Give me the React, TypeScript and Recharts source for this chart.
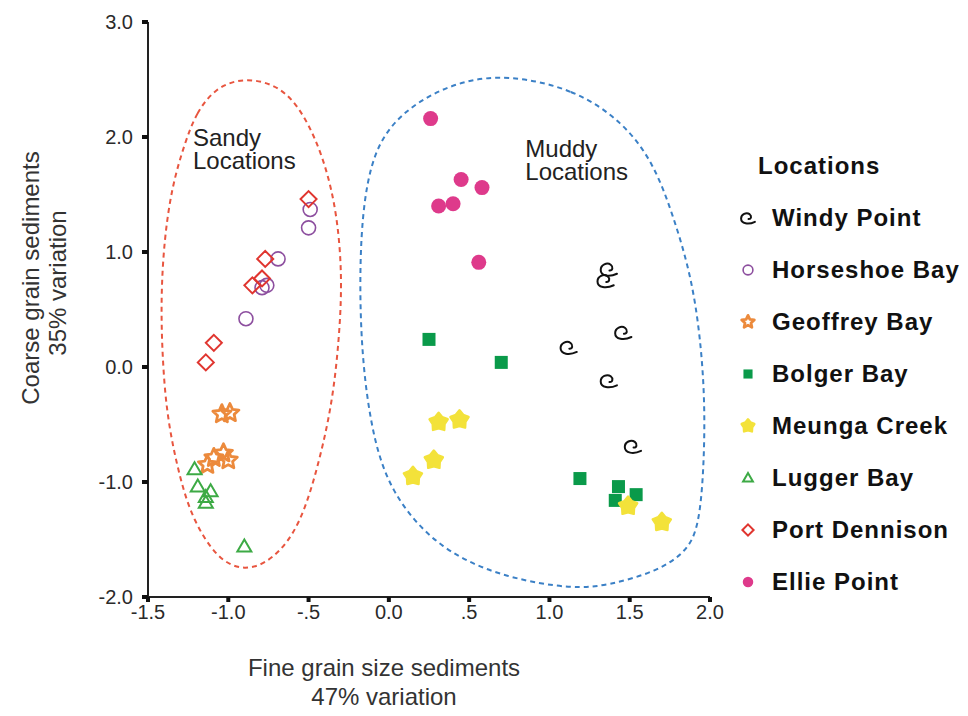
import React from 'react';
import {
  ComposedChart, Scatter, Line, XAxis, YAxis, Legend, ReferenceDot,
} from 'recharts';

const FONT = '"Liberation Sans", Arial, Helvetica, sans-serif';

const X_TICKS = [-1.5, -1, -0.5, 0, 0.5, 1, 1.5, 2];
const X_TICK_LABELS = ['-1.5', '-1.0', '-.5', '0.0', '.5', '1.0', '1.5', '2.0'];
const Y_TICKS = [-2, -1, 0, 1, 2, 3];
const Y_TICK_LABELS = ['-2.0', '-1.0', '0.0', '1.0', '2.0', '3.0'];

const windyPoint = [
  { x: 1.37, y: 0.85 }, { x: 1.35, y: 0.75 }, { x: 1.12, y: 0.17 },
  { x: 1.46, y: 0.3 }, { x: 1.37, y: -0.12 }, { x: 1.52, y: -0.69 },
];
const horseshoeBay = [
  { x: -0.49, y: 1.37 }, { x: -0.5, y: 1.21 }, { x: -0.69, y: 0.94 },
  { x: -0.76, y: 0.71 }, { x: -0.79, y: 0.69 }, { x: -0.89, y: 0.42 },
];
const geoffreyBay = [
  { x: -1.04, y: -0.41 }, { x: -0.99, y: -0.4 }, { x: -1.13, y: -0.85 },
  { x: -1.09, y: -0.79 }, { x: -1.03, y: -0.75 }, { x: -1.0, y: -0.81 },
];
const bolgerBay = [
  { x: 0.25, y: 0.24 }, { x: 0.7, y: 0.04 }, { x: 1.19, y: -0.97 },
  { x: 1.43, y: -1.04 }, { x: 1.41, y: -1.16 }, { x: 1.54, y: -1.11 },
];
const meungaCreek = [
  { x: 0.31, y: -0.48 }, { x: 0.44, y: -0.46 }, { x: 0.28, y: -0.81 },
  { x: 0.15, y: -0.95 }, { x: 1.49, y: -1.21 }, { x: 1.7, y: -1.35 },
];
const luggerBay = [
  { x: -1.21, y: -0.89 }, { x: -1.19, y: -1.04 }, { x: -1.11, y: -1.08 },
  { x: -1.14, y: -1.13 }, { x: -1.14, y: -1.18 }, { x: -0.9, y: -1.56 },
];
const portDennison = [
  { x: -0.5, y: 1.46 }, { x: -0.77, y: 0.94 }, { x: -0.79, y: 0.77 },
  { x: -0.85, y: 0.71 }, { x: -1.09, y: 0.21 }, { x: -1.14, y: 0.04 },
];
const elliePoint = [
  { x: 0.26, y: 2.16 }, { x: 0.45, y: 1.63 }, { x: 0.58, y: 1.56 },
  { x: 0.4, y: 1.42 }, { x: 0.31, y: 1.4 }, { x: 0.56, y: 0.91 },
];

// dashed outlines around the two groups
const sandyOutline = [
  { x: -1.08, y: 2.43 }, { x: -1.2, y: 2.21 }, { x: -1.27, y: 1.95 }, { x: -1.35, y: 1.58 },
  { x: -1.4, y: 1.1 }, { x: -1.42, y: 0.58 }, { x: -1.41, y: 0.06 }, { x: -1.38, y: -0.46 },
  { x: -1.3, y: -0.98 }, { x: -1.22, y: -1.33 }, { x: -1.07, y: -1.67 }, { x: -0.9, y: -1.78 },
  { x: -0.72, y: -1.68 }, { x: -0.55, y: -1.38 }, { x: -0.43, y: -0.81 }, { x: -0.35, y: -0.29 },
  { x: -0.31, y: 0.24 }, { x: -0.29, y: 0.76 }, { x: -0.32, y: 1.32 }, { x: -0.4, y: 1.8 },
  { x: -0.53, y: 2.21 }, { x: -0.68, y: 2.45 }, { x: -0.9, y: 2.52 },
];
const muddyOutline = [
  { x: 0.74, y: 2.54 }, { x: 1.15, y: 2.42 }, { x: 1.46, y: 2.13 }, { x: 1.65, y: 1.77 },
  { x: 1.77, y: 1.32 }, { x: 1.88, y: 0.81 }, { x: 1.94, y: 0.27 }, { x: 1.97, y: -0.33 },
  { x: 1.96, y: -0.93 }, { x: 1.93, y: -1.38 }, { x: 1.86, y: -1.6 }, { x: 1.67, y: -1.78 },
  { x: 1.36, y: -1.9 }, { x: 1.15, y: -1.93 }, { x: 0.74, y: -1.84 }, { x: 0.32, y: -1.6 },
  { x: 0.0, y: -1.09 }, { x: -0.12, y: -0.49 }, { x: -0.18, y: 0.27 }, { x: -0.18, y: 1.17 },
  { x: -0.12, y: 1.77 }, { x: 0.0, y: 2.1 }, { x: 0.21, y: 2.34 }, { x: 0.46, y: 2.49 },
];

type Kind = 'spiral' | 'openCircle' | 'openStar' | 'square' | 'blobStar' | 'triangle' | 'diamond' | 'dot';

const SERIES: { name: string; data: { x: number; y: number }[]; kind: Kind; color: string }[] = [
  { name: 'Windy Point', data: windyPoint, kind: 'spiral', color: '#111111' },
  { name: 'Horseshoe Bay', data: horseshoeBay, kind: 'openCircle', color: '#8d4f9f' },
  { name: 'Geoffrey Bay', data: geoffreyBay, kind: 'openStar', color: '#ec8a3c' },
  { name: 'Bolger Bay', data: bolgerBay, kind: 'square', color: '#0a9a4a' },
  { name: 'Meunga Creek', data: meungaCreek, kind: 'blobStar', color: '#f3e23a' },
  { name: 'Lugger Bay', data: luggerBay, kind: 'triangle', color: '#3daa45' },
  { name: 'Port Dennison', data: portDennison, kind: 'diamond', color: '#e0352f' },
  { name: 'Ellie Point', data: elliePoint, kind: 'dot', color: '#de3a8b' },
];

function starPoints(cx: number, cy: number, outer: number, inner: number) {
  const pts: string[] = [];
  for (let i = 0; i < 10; i++) {
    const r = i % 2 === 0 ? outer : inner;
    const a = -Math.PI / 2 + (i * Math.PI) / 5;
    pts.push(`${(cx + r * Math.cos(a)).toFixed(2)},${(cy + r * Math.sin(a)).toFixed(2)}`);
  }
  return pts.join(' ');
}

function Marker({ kind, color, cx, cy, s = 1 }: { kind: Kind; color: string; cx: number; cy: number; s?: number }) {
  switch (kind) {
    case 'spiral':
      return (
        <path
          transform={`translate(${cx},${cy}) scale(${1.25 * s})`}
          d="M0.5 1 C3 1.2 3.8 -1.8 1.5 -3.6 C-1.5 -5.8 -6.5 -3.5 -6.5 0.5 C-6.5 5.5 0.5 6.5 6.5 3.6"
          fill="none" stroke={color} strokeWidth={2 / (1.25 * s)} strokeLinecap="round"
        />
      );
    case 'openCircle':
      return <circle cx={cx} cy={cy} r={7 * s} fill="none" stroke={color} strokeWidth={1.6} />;
    case 'openStar':
      return (
        <polygon points={starPoints(cx, cy, 9.5 * s, 4.5 * s)} fill="none" stroke={color}
          strokeWidth={2.8} strokeLinejoin="round" />
      );
    case 'square':
      return <rect x={cx - 6.5 * s} y={cy - 6.5 * s} width={13 * s} height={13 * s} fill={color} />;
    case 'blobStar':
      return (
        <polygon points={starPoints(cx, cy, 9.5 * s, 6.2 * s)} fill={color} stroke={color}
          strokeWidth={2.5} strokeLinejoin="round" />
      );
    case 'triangle':
      return (
        <polygon
          points={`${cx},${cy - 7 * s} ${cx + 7 * s},${cy + 5 * s} ${cx - 7 * s},${cy + 5 * s}`}
          fill="none" stroke={color} strokeWidth={2} strokeLinejoin="miter" />
      );
    case 'diamond':
      return (
        <polygon
          points={`${cx},${cy - 8 * s} ${cx + 8 * s},${cy} ${cx},${cy + 8 * s} ${cx - 8 * s},${cy}`}
          fill="none" stroke={color} strokeWidth={2} />
      );
    default:
      return <circle cx={cx} cy={cy} r={7.5 * s} fill={color} />;
  }
}

const renderLegend = () => (
  <div style={{ fontFamily: FONT, fontWeight: 'bold', fontSize: 24, letterSpacing: 1, color: '#111' }}>
    <div style={{ height: 52, lineHeight: '52px', paddingLeft: 28 }}>Locations</div>
    {SERIES.map((s) => (
      <div key={s.name} style={{ height: 52, display: 'flex', alignItems: 'center' }}>
        <svg width={36} height={30} style={{ marginRight: 6 }}>
          <Marker kind={s.kind} color={s.color} cx={18} cy={15} s={s.kind === 'spiral' ? 0.85 : 0.7} />
        </svg>
        <span>{s.name}</span>
      </div>
    ))}
  </div>
);

const note = (lines: string[]) => (props: any) => {
  const vb = props.viewBox || {};
  return (
    <text x={vb.x} y={vb.y} fill="#222" fontSize={24} fontFamily={FONT}>
      {lines.map((t, i) => (
        <tspan key={t} x={vb.x} dy={i === 0 ? 0 : 23}>{t}</tspan>
      ))}
    </text>
  );
};

const YTitle = (props: any) => {
  const { x, y } = props.viewBox;
  return (
    <g fill="#333" fontSize={24} fontFamily={FONT} textAnchor="middle">
      <text transform={`translate(${x + 39},${y + 256}) rotate(-90)`}>Coarse grain sediments</text>
      <text transform={`translate(${x + 66},${y + 261}) rotate(-90)`}>35% variation</text>
    </g>
  );
};

const XTitle = (props: any) => {
  const { x, y } = props.viewBox;
  return (
    <g fill="#333" fontSize={24} fontFamily={FONT} textAnchor="middle">
      <text x={x + 236} y={y + 79}>Fine grain size sediments</text>
      <text x={x + 236} y={y + 108}>47% variation</text>
    </g>
  );
};

export default function App() {
  const tickStyle = { fill: '#2a2a2a', fontSize: 20, fontFamily: FONT };
  return (
    <div style={{ position: 'absolute', left: 0, top: 0, background: '#fff', fontFamily: FONT }}>
      <ComposedChart width={968} height={716} margin={{ top: 22, right: 258, bottom: 0, left: 0 }}>
        <XAxis
          type="number" dataKey="x" domain={[-1.5, 2]} ticks={X_TICKS} allowDataOverflow interval={0}
          height={119} tickSize={5} tickMargin={3} fontSize={20}
          tickFormatter={(v: number) => X_TICK_LABELS[X_TICKS.indexOf(v)] ?? String(v)}
          tick={tickStyle}
          axisLine={{ stroke: '#222', strokeWidth: 2 }}
          tickLine={{ stroke: '#111', strokeWidth: 4 }}
          label={{ content: XTitle }}
        />
        <YAxis
          type="number" dataKey="y" domain={[-2, 3]} ticks={Y_TICKS} allowDataOverflow interval={0}
          width={148} tickSize={6} tickMargin={9} fontSize={20}
          tickFormatter={(v: number) => Y_TICK_LABELS[Y_TICKS.indexOf(v)] ?? String(v)}
          tick={tickStyle}
          axisLine={{ stroke: '#222', strokeWidth: 2 }}
          tickLine={{ stroke: '#111', strokeWidth: 4 }}
          label={{ content: YTitle }}
        />
        <Line data={sandyOutline} dataKey="y" type="basisClosed" stroke="#e8553f" strokeWidth={2}
          strokeDasharray="5 4" dot={false} activeDot={false} legendType="none" isAnimationActive={false} />
        <Line data={muddyOutline} dataKey="y" type="basisClosed" stroke="#3b80c6" strokeWidth={2}
          strokeDasharray="5 4" dot={false} activeDot={false} legendType="none" isAnimationActive={false} />
        {SERIES.map((s) => (
          <Scatter
            key={s.name} name={s.name} data={s.data} dataKey="y" isAnimationActive={false}
            shape={(p: any) => <Marker kind={s.kind} color={s.color} cx={p.cx} cy={p.cy} />}
          />
        ))}
        <ReferenceDot x={-1.22} y={1.92} r={0} fill="none" stroke="none" label={{ content: note(['Sandy', 'Locations']) }} />
        <ReferenceDot x={0.85} y={1.83} r={0} fill="none" stroke="none" label={{ content: note(['Muddy', 'Locations']) }} />
        <Legend layout="vertical" align="center" verticalAlign="middle" content={renderLegend}
          wrapperStyle={{ left: 730, top: 140, width: 238 }} />
      </ComposedChart>
    </div>
  );
}
